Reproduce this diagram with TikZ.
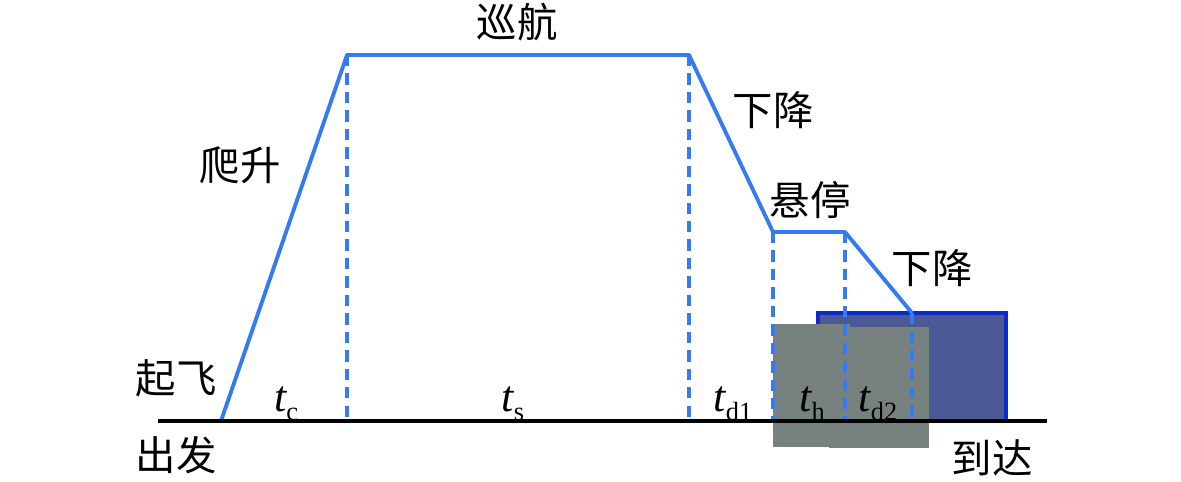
\documentclass[tikz,border=0pt]{standalone}
\usepackage{fontspec}
\setmainfont{Liberation Serif}
\newfontfamily\cjk{Noto Sans CJK SC}
\usetikzlibrary{calc}
\definecolor{pathblue}{RGB}{52,122,240}
\definecolor{boxblue}{RGB}{75,89,148}
\definecolor{edgeblue}{RGB}{12,44,200}
\definecolor{boxgray}{RGB}{119,130,128}
\def\tlab#1{{\itshape t}\raisebox{-0.4ex}{\fontsize{15}{16}\selectfont #1}}

\begin{document}
\begin{tikzpicture}[x=0.02cm,y=-0.02cm,
	phase/.style={line width=2.2pt, color=pathblue, line join=round},
	guide/.style={line width=2.2pt, color=pathblue, dash pattern=on 6.5pt off 4pt},
	stage/.style={font=\cjk\fontsize{23}{25}\selectfont, inner sep=0pt},
	tname/.style={font=\fontsize{25}{27}\selectfont, inner sep=0pt, anchor=base}]
			%%%%% START %%%%%
			\useasboundingbox (0, 0) rectangle (1181, 482);
			
			\fill[boxblue] (818, 313) rectangle (1006, 421);
			\draw[line width=2.6pt, color=edgeblue] (818, 313) rectangle (1006, 421);
			\fill[boxgray] (773, 324) rectangle (850, 447);
			\fill[boxgray] (829, 327) rectangle (929, 448);
			
			\coordinate (start) at (221, 421);
			\coordinate (top1) at (347, 55);
			\coordinate (top2) at (689, 55);
			\coordinate (hov1) at (773, 232);
			\coordinate (hov2) at (845, 232);
			\coordinate (land) at (912, 313);
			\coordinate (lineL) at (158, 421);
			\coordinate (lineR) at (1047, 421);
			
			\draw[guide] (top1) -- (top1 |- start);
			\draw[guide] (top2) -- (top2 |- start);
			\draw[guide] (hov1) -- (hov1 |- start);
			\draw[guide] (hov2) -- (hov2 |- start);
			\draw[guide] (land) -- (land |- start);
			
			\draw[phase] (start) -- (top1) -- (top2) -- (hov1) -- (hov2) -- (land);
			\draw[line width=2.2pt] (lineL) -- (lineR);
			
			\node[stage] (cruise) at (517, 22) {巡航};
			\node[stage] (climb) at (240, 165) {爬升};
			\node[stage] (desc1) at (773, 110) {下降};
			\node[stage] (hover) at (810, 200) {悬停};
			\node[stage] (desc2) at (932, 268) {下降};
			\node[stage] (takeoff) at (176, 378) {起飞};
			\node[stage] (depart) at (176, 455) {出发};
			\node[stage] (arrive) at (992, 458) {到达};
			
			\node[tname] (tc) at (286, 412) {\tlab{c}};
			\node[tname] (ts) at (513, 412) {\tlab{s}};
			\node[tname] (td1) at (733, 412) {\tlab{d1}};
			\node[tname] (th) at (812, 412) {\tlab{h}};
			\node[tname] (td2) at (878, 412) {\tlab{d2}};
			
			%%%%% END %%%%%
\end{tikzpicture}
\end{document}
